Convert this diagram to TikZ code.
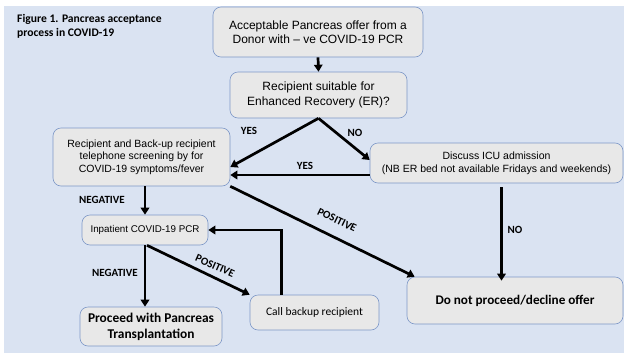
\documentclass[tikz,border=0pt]{standalone}
\usepackage[RGB]{xcolor}
\usepackage{fontspec}
\setmainfont{Liberation Sans}
\newfontfamily\calibri{Carlito}
\usetikzlibrary{arrows.meta}
\definecolor{BG}{RGB}{218,227,242}
\definecolor{B}{RGB}{232,232,232}
\definecolor{E}{RGB}{125,152,200}
\newcommand{\drawthick}{\draw[line width=2.7pt,-{Triangle[length=7pt,width=8.5pt]}]}
\newcommand{\fs}[1]{\fontsize{#1}{1.2\dimexpr#1pt\relax}\selectfont}
\tikzset{
  box/.style={draw=E,fill=B,line width=0.6pt,rounded corners=8pt,align=center,inner sep=0pt},
  lbl/.style={font=\calibri\bfseries\fs{11},inner sep=0pt}
}

\begin{document}
\begin{tikzpicture}[x=1pt,y=-1pt]
\useasboundingbox (0,0) rectangle (624,354);
\fill[BG] (4,6) rectangle (624,353);
\node[anchor=north west,align=left,inner sep=0pt,font=\calibri\bfseries\fontsize{11.6}{14}\selectfont] (title) at (17,14) {Figure 1. Pancreas acceptance\\process in COVID-19};
\node[box,minimum width=210,minimum height=50,font=\fs{12}] (offer) at (318,32) {Acceptable Pancreas offer from a\\Donor with -- ve COVID-19 PCR};
\node[box,minimum width=177,minimum height=46,font=\fs{12}] (suit) at (318.5,95) {Recipient suitable for\\Enhanced Recovery (ER)?};
\node[box,minimum width=177,minimum height=58,font=\fs{10.5}] (screen) at (141.5,157) {Recipient and Back-up recipient\\telephone screening by for\\COVID-19 symptoms/fever};
\node[box,minimum width=253,minimum height=40,font=\fs{10.5}] (icu) at (496.5,163) {Discuss ICU admission\\(NB ER bed not available Fridays and weekends)};
\node[box,minimum width=126,minimum height=30,font=\fs{9.8}] (pcr) at (145,230) {Inpatient COVID-19 PCR};
\node[box,minimum width=216,minimum height=47,font=\calibri\bfseries\fs{13.2}] (decline) at (515,300.5) {Do not proceed/decline offer};
\node[box,minimum width=129,minimum height=35,font=\calibri\fs{11.5}] (backup) at (314.5,312.5) {Call backup recipient};
\node[box,minimum width=142,minimum height=39,font=\calibri\bfseries\fs{13.4}] (proceed) at (151,326.5) {Proceed with Pancreas\\Transplantation};
\drawthick (offer.south) -- (suit.north);
\drawthick (suit.south) -- ([yshift=-10pt]screen.east);
\drawthick (suit.south) -- ([yshift=3pt]icu.west);
\drawthick ([yshift=-12pt]icu.west) -- ([yshift=-12pt]icu.west -| screen.east);
\drawthick (pcr.north |- screen.south) -- (pcr.north);
\drawthick (screen.south east) -- ([xshift=8pt]decline.north west);
\drawthick ([xshift=5pt,yshift=-4pt]icu.south) -- ([xshift=5pt,yshift=-4pt]icu.south |- decline.north);
\drawthick (pcr.south) -- (pcr.south |- proceed.north);
\drawthick ([xshift=2pt]pcr.south) -- (backup.north west);
\drawthick ([xshift=32pt]backup.north west) |- (pcr.east);
\node[lbl] (yes1) at (249,131) {YES};
\node[lbl] (no1) at (355,133) {NO};
\node[lbl] (yes2) at (305,166) {YES};
\node[lbl] (neg1) at (102,200) {NEGATIVE};
\node[lbl,rotate=-26] (pos1) at (337,220) {POSITIVE};
\node[lbl] (no2) at (515,230) {NO};
\node[lbl] (neg2) at (115,273) {NEGATIVE};
\node[lbl,rotate=-24] (pos2) at (215,266) {POSITIVE};
\end{tikzpicture}
\end{document}
